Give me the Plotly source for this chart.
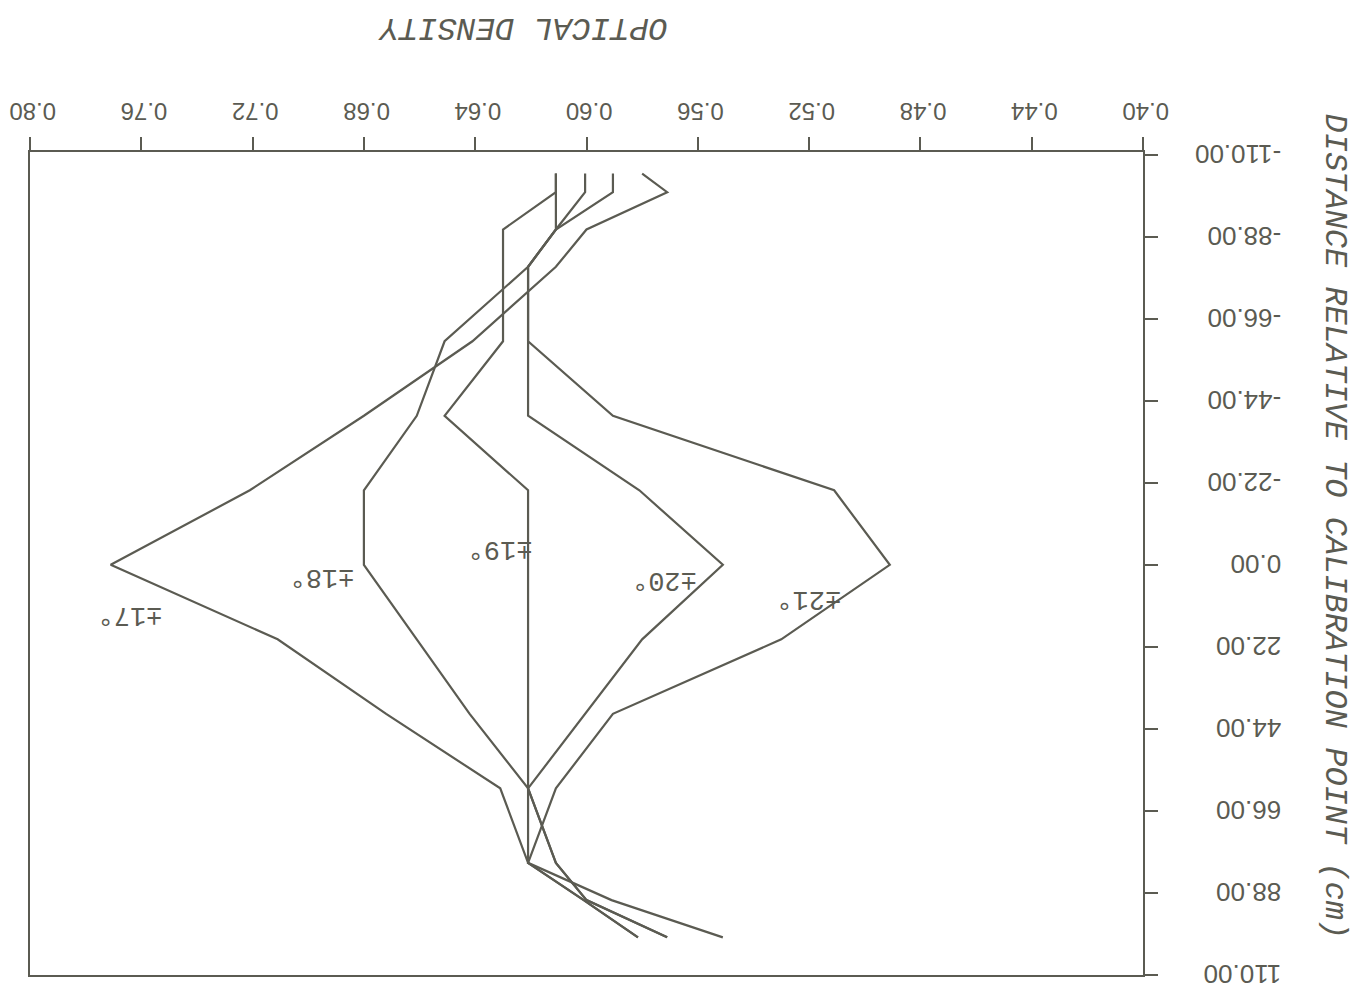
import plotly.graph_objects as go

# distance relative to calibration point (cm)
distance = [-105, -100, -90, -80, -60, -40, -20, 0, 20, 40, 60, 80, 90, 100]

# optical density for each angle
od_17 = [0.580, 0.571, 0.600, 0.611, 0.641, 0.680, 0.721, 0.771, 0.711, 0.672, 0.631, 0.621, 0.601, 0.5815]
od_18 = [0.5905, 0.5905, 0.611, 0.621, 0.651, 0.661, 0.680, 0.680, 0.661, 0.642, 0.621, 0.611, 0.600, 0.571]
od_19 = [0.611, 0.611, 0.630, 0.630, 0.630, 0.651, 0.621, 0.621, 0.621, 0.621, 0.621, 0.621, 0.601, 0.5815]
od_20 = [0.6005, 0.6005, 0.611, 0.621, 0.621, 0.621, 0.581, 0.551, 0.580, 0.6005, 0.621, 0.611, 0.600, 0.571]
od_21 = [0.611, 0.611, 0.611, 0.621, 0.621, 0.5905, 0.511, 0.491, 0.530, 0.5905, 0.611, 0.621, 0.591, 0.551]

series = [od_17, od_18, od_19, od_20, od_21]
labels = ["±17°", "±18°", "±19°", "±20°", "±21°"]
label_x = [0.764, 0.695, 0.631, 0.572, 0.520]
label_y = [13.3, 3.3, -4.2, 3.9, 9.2]

x_ticks = [0.40, 0.44, 0.48, 0.52, 0.56, 0.60, 0.64, 0.68, 0.72, 0.76, 0.80]
y_ticks = [-110, -88, -66, -44, -22, 0, 22, 44, 66, 88, 110]

INK = "#5b5b52"
MONO = "Liberation Mono, Courier New, monospace"
TICKFONT = "Liberation Sans, Arial, sans-serif"

fig = go.Figure()
for od in series:
    fig.add_trace(go.Scatter(x=od, y=distance, mode="lines",
                             line=dict(color=INK, width=2.2),
                             showlegend=False, hoverinfo="skip"))

for txt, lx, ly in zip(labels, label_x, label_y):
    fig.add_annotation(x=lx, y=ly, xref="x", yref="y", text=txt, showarrow=False,
                       textangle=180, font=dict(family=MONO, size=27, color=INK),
                       xanchor="center", yanchor="middle")

fig.add_annotation(x=0.443, y=1.151, xref="paper", yref="paper",
                   text="<i>OPTICAL DENSITY</i>", showarrow=False, textangle=180,
                   font=dict(family=MONO, size=32, color=INK),
                   xanchor="center", yanchor="middle")
fig.add_annotation(x=1.1725, y=0.545, xref="paper", yref="paper",
                   text="<i>DISTANCE RELATIVE TO CALIBRATION POINT (cm)</i>",
                   showarrow=False, textangle=90,
                   font=dict(family=MONO, size=32, color=INK),
                   xanchor="center", yanchor="middle")

fig.update_layout(
    width=1360, height=1000,
    margin=dict(l=22, r=225, t=144, b=33, autoexpand=False),
    paper_bgcolor="white", plot_bgcolor="white",
    xaxis=dict(side="top", range=[0.80, 0.40], tickvals=x_ticks,
               ticktext=[f"{v:.2f}" for v in x_ticks], tickangle=180,
               ticks="outside", ticklen=13, tickwidth=2, tickcolor=INK,
               showline=True, linecolor=INK, linewidth=2, mirror=True,
               showgrid=False, zeroline=False, ticklabeloverflow="allow",
               ticklabelshift=-26, ticklabelstandoff=0, automargin=False,
               tickfont=dict(family=TICKFONT, size=24, color=INK)),
    yaxis=dict(side="right", range=[110.1, -110.8], tickvals=y_ticks,
               ticktext=[f"{v:.2f}" for v in y_ticks], tickangle=180,
               ticks="outside", ticklen=13, tickwidth=2, tickcolor=INK,
               showline=True, linecolor=INK, linewidth=2, mirror=True,
               showgrid=False, zeroline=False, ticklabelstandoff=118,
               ticklabelshift=-7, automargin=False,
               ticklabeloverflow="allow",
               tickfont=dict(family=TICKFONT, size=26, color=INK)),
)

fig.write_html("out.html")
